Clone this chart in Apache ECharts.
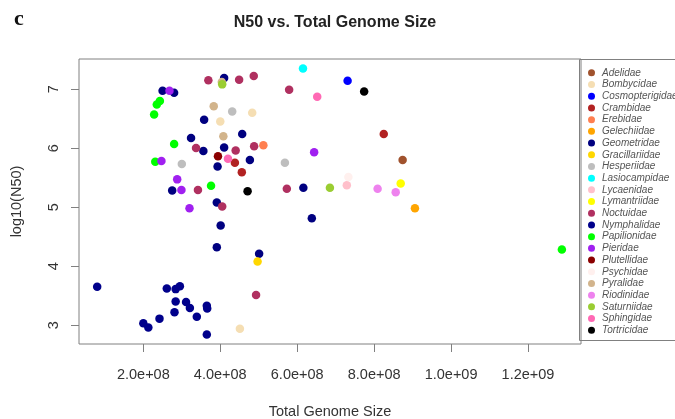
<!DOCTYPE html>
<html>
<head>
<meta charset="utf-8">
<script src="https://cdn.jsdelivr.net/npm/echarts@6/dist/echarts.min.js"></script>
<style>
html,body{margin:0;padding:0;background:#fff;}
#chart{width:675px;height:419px;}
</style>
</head>
<body>
<div id="chart"></div>
<script>
// ---- data: [total genome size, log10(N50)] ----
const adelidae = [[8.74e8, 5.80]];
const bombycidae = [[4.83e8, 6.60], [4.00e8, 6.45], [4.51e8, 2.94]];
const cosmopterigidae = [[7.31e8, 7.14]];
const crambidae = [[4.38e8, 5.75], [4.56e8, 5.59], [8.25e8, 6.24]];
const erebidae = [[5.12e8, 6.05]];
const gelechiidae = [[9.06e8, 4.98]];
const geometridae = [[4.10e8, 7.19], [2.50e8, 6.97], [2.80e8, 6.94], [3.58e8, 6.48], [3.24e8, 6.17],
  [4.57e8, 6.24], [3.56e8, 5.95], [4.10e8, 6.01], [4.77e8, 5.80], [3.93e8, 5.69], [2.75e8, 5.28],
  [6.16e8, 5.33], [6.38e8, 4.81], [3.91e8, 5.08], [4.01e8, 4.69], [3.91e8, 4.32], [5.01e8, 4.21]];
const gracillariidae = [[4.97e8, 4.08]];
const hesperiidae = [[4.31e8, 6.62], [3.00e8, 5.73], [5.68e8, 5.75]];
const lasiocampidae = [[6.15e8, 7.35]];
const lycaenidae = [[7.29e8, 5.37]];
const lymantriidae = [[8.69e8, 5.40]];
const noctuidae = [[3.69e8, 7.15], [4.49e8, 7.16], [4.87e8, 7.22], [5.79e8, 6.99], [3.37e8, 6.00],
  [4.40e8, 5.96], [4.88e8, 6.03], [3.42e8, 5.29], [5.73e8, 5.31], [4.05e8, 5.01], [4.93e8, 3.51]];
const nymphalidae = [[0.80e8, 3.65], [2.61e8, 3.62], [2.84e8, 3.61], [2.95e8, 3.66], [2.84e8, 3.40],
  [3.11e8, 3.39], [3.21e8, 3.29], [3.65e8, 3.33], [3.66e8, 3.28], [2.81e8, 3.22], [2.42e8, 3.11],
  [3.39e8, 3.14], [2.00e8, 3.03], [2.13e8, 2.96], [3.65e8, 2.84]];
const papilionidae = [[2.43e8, 6.80], [2.35e8, 6.74], [2.28e8, 6.57], [2.80e8, 6.07], [2.31e8, 5.77],
  [3.76e8, 5.36], [12.88e8, 4.28]];
const pieridae = [[2.68e8, 6.97], [2.47e8, 5.78], [2.88e8, 5.47], [2.99e8, 5.29], [3.20e8, 4.98], [6.44e8, 5.93]];
const plutellidae = [[3.94e8, 5.86]];
const psychidae = [[7.33e8, 5.51]];
const pyralidae = [[4.04e8, 7.12], [3.83e8, 6.71], [4.08e8, 6.20]];
const riodinidae = [[8.09e8, 5.31], [8.56e8, 5.25]];
const saturniidae = [[4.05e8, 7.08], [6.85e8, 5.33]];
const sphingidae = [[6.52e8, 6.87], [4.20e8, 5.82]];
const tortricidae = [[7.74e8, 6.96], [4.71e8, 5.27]];

const familyNames = ['Adelidae','Bombycidae','Cosmopterigidae','Crambidae','Erebidae','Gelechiidae',
  'Geometridae','Gracillariidae','Hesperiidae','Lasiocampidae','Lycaenidae','Lymantriidae','Noctuidae',
  'Nymphalidae','Papilionidae','Pieridae','Plutellidae','Psychidae','Pyralidae','Riodinidae',
  'Saturniidae','Sphingidae','Tortricidae'];
const familyData = [adelidae, bombycidae, cosmopterigidae, crambidae, erebidae, gelechiidae,
  geometridae, gracillariidae, hesperiidae, lasiocampidae, lycaenidae, lymantriidae, noctuidae,
  nymphalidae, papilionidae, pieridae, plutellidae, psychidae, pyralidae, riodinidae,
  saturniidae, sphingidae, tortricidae];
const familyColors = ['#A0522D','#F5DEB3','#0000FF','#B22222','#FF7F50','#FFA500',
  '#000080','#FFD700','#BEBEBE','#00FFFF','#FFC0CB','#FFFF00','#B03060',
  '#00008B','#00FF00','#A020F0','#8B0000','#FFF0EE','#D2B48C','#EE82EE',
  '#9ACD32','#FF69B4','#000000'];

const xTicks = [2e8, 4e8, 6e8, 8e8, 1e9, 1.2e9];
const yTicks = [3, 4, 5, 6, 7];

function sci(v){
  const e = Math.floor(Math.log10(v) + 1e-9);
  const m = (v / Math.pow(10, e)).toFixed(1);
  return m + 'e+' + (e < 10 ? '0' + e : '' + e);
}

const chart = echarts.init(document.getElementById('chart'), null, {renderer:'canvas'});
const FONT = '"Liberation Sans", Arial, sans-serif';
const AX = '#808080';

const series = familyNames.map((n, i) => ({
  name: n,
  type: 'scatter',
  data: familyData[i],
  symbol: 'circle',
  symbolSize: 8.5,
  itemStyle: {color: familyColors[i], opacity: 1},
  emphasis: {disabled: true},
  silent: true
}));

chart.setOption({
  animation: false,
  backgroundColor: '#ffffff',
  title: {
    text: 'N50 vs. Total Genome Size',
    left: 330, top: 10, textAlign: 'center',
    textStyle: {fontFamily: FONT, fontWeight: 'bold', fontSize: 16, color: '#222'}
  },
  graphic: [
    {type: 'text', left: 14, top: 8,
     style: {text: 'c', font: 'bold 22px "Liberation Serif", "Times New Roman", serif', fill: '#111'}},
    {type: 'rect', shape: {x: 579.5, y: 59.5, width: 200, height: 281},
     style: {fill: 'none', stroke: AX, lineWidth: 1}, silent: true, z: 0}
  ],
  legend: {
    orient: 'vertical',
    left: 588, top: 67,
    itemWidth: 7, itemHeight: 7, itemGap: 0,
    icon: 'circle',
    padding: 0,
    selectedMode: false,
    data: familyNames,
    textStyle: {fontFamily: FONT, fontStyle: 'italic', fontSize: 10, lineHeight: 11.7, height: 11.7, color: '#555', padding: [0,0,0,2]}
  },
  grid: {left: 79, right: 94, top: 59, bottom: 75, show: true, borderColor: AX, borderWidth: 1,
    backgroundColor: 'transparent', containLabel: false, outerBoundsMode: 'none'},
  xAxis: {
    type: 'value', min: 0.3275e8, max: 13.377e8,
    name: 'Total Genome Size', nameLocation: 'middle', nameGap: 60,
    nameTextStyle: {fontFamily: FONT, fontSize: 14.5, color: '#333'},
    splitLine: {show: false},
    axisLine: {show: false},
    axisTick: {show: true, length: 8, customValues: xTicks, lineStyle: {color: AX}},
    axisLabel: {customValues: xTicks, formatter: v => sci(v), margin: 23,
      fontFamily: FONT, fontSize: 14.5, color: '#333'}
  },
  yAxis: {
    type: 'value', min: 2.68, max: 7.51,
    name: 'log10(N50)', nameLocation: 'middle', nameGap: 55, nameRotate: 90,
    nameTextStyle: {fontFamily: FONT, fontSize: 14.5, color: '#333'},
    splitLine: {show: false},
    axisLine: {show: false},
    axisTick: {show: true, length: 8, customValues: yTicks, lineStyle: {color: AX}},
    axisLabel: {customValues: yTicks, rotate: 90, margin: 18,
      fontFamily: FONT, fontSize: 14.5, color: '#333'}
  },
  series: series
});
</script>
</body>
</html>
